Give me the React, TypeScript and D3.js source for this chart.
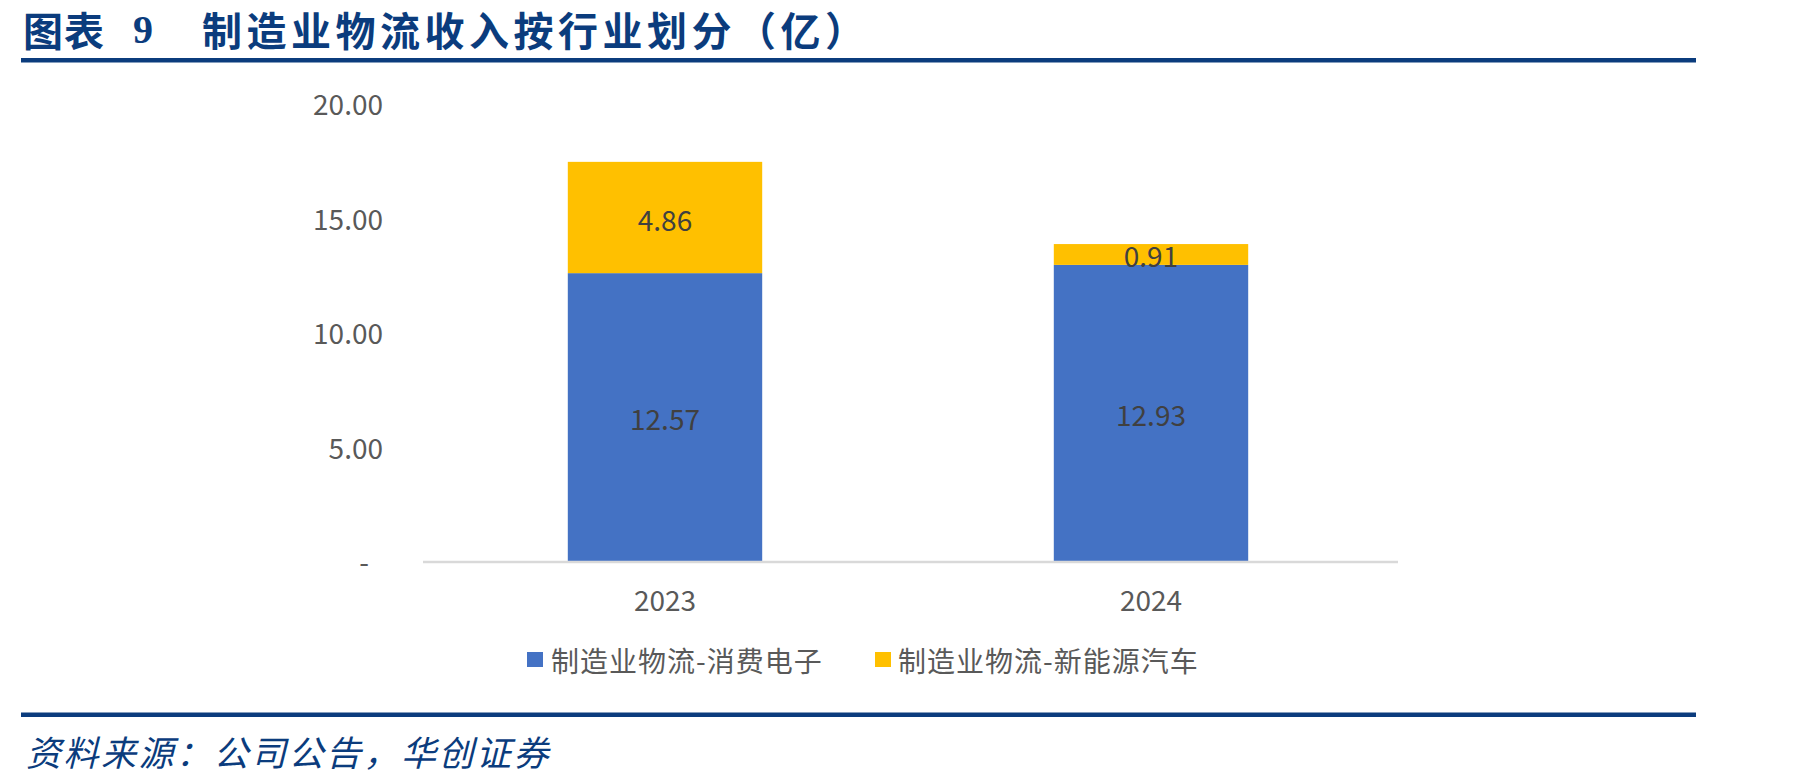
import React from "react";
import * as d3 from "d3";

const categories = ["2023", "2024"];
const seriesNames = ["制造业物流-消费电子", "制造业物流-新能源汽车"];
const consumerElectronics = [12.57, 12.93];
const newEnergyVehicles = [4.86, 0.91];
const yTicks = [0, 5, 10, 15, 20];
const titleLabel = "图表";
const titleNumber = "9";
const titleText = "制造业物流收入按行业划分（亿）";
const sourceText = "资料来源：公司公告，华创证券";

const colors = ["#4472C4", "#FFC000"];
const W = 1801;
const H = 783;
const navy = "#0B3C7D";
const grey = "#595959";
const cjk = "'Microsoft YaHei', 'Noto Sans CJK SC', 'Noto Sans', sans-serif";

export default function App() {
  const x = d3
    .scaleBand<string>()
    .domain(categories)
    .range([422, 1394])
    .paddingInner(0.6)
    .paddingOuter(0.3);
  const y = d3.scaleLinear().domain([0, 20]).range([561, 103]);

  const rows = categories.map((c, i) => ({
    cat: c,
    a: consumerElectronics[i],
    b: newEnergyVehicles[i],
  }));
  const stack = d3.stack<any>().keys(["a", "b"]);
  const layers = stack(rows);
  const fmt = d3.format(".2f");

  const legendItems = [
    { sq: 527, tx: 551 },
    { sq: 875, tx: 898 },
  ];

  return (
    <div style={{ position: "absolute", left: 0, top: 0 }}>
      <svg width={W} height={H} style={{ display: "block", background: "#fff" }}>
        {/* Title */}
        <text x={23} y={29} dominantBaseline="central" fontFamily={cjk} fontWeight={700} fontSize={40} fill={navy} letterSpacing={1}>
          {titleLabel}
        </text>
        <text x={133} y={29} dominantBaseline="central" fontFamily="'Liberation Serif', serif" fontWeight={700} fontSize={40} fill={navy}>
          {titleNumber}
        </text>
        <text x={202} y={29} dominantBaseline="central" fontFamily={cjk} fontWeight={700} fontSize={40} fill={navy} letterSpacing={4.5}>
          {titleText}
        </text>
        <rect x={21} y={58} width={1675} height={4.5} fill={navy} />

        {/* Y ticks */}
        {yTicks.map((t) => (
          <text
            key={t}
            x={t === 0 ? 369 : 383}
            y={y(t)}
            textAnchor="end"
            dominantBaseline="central"
            fontFamily={cjk}
            fontSize={28}
            fill={grey}
          >
            {t === 0 ? "-" : fmt(t)}
          </text>
        ))}

        {/* Bars */}
        {layers.map((layer, li) =>
          layer.map((d: any, i: number) => {
            const x0 = x(d.data.cat)!;
            const y0 = y(d[1]);
            const h = y(d[0]) - y(d[1]);
            return (
              <g key={`${li}-${i}`}>
                <rect x={x0} y={y0} width={x.bandwidth()} height={h} fill={colors[li]} />
                <text
                  x={x0 + x.bandwidth() / 2}
                  y={y0 + h / 2 + 1}
                  textAnchor="middle"
                  dominantBaseline="central"
                  fontFamily={cjk}
                  fontSize={28}
                  fill="#404040"
                >
                  {fmt(d[1] - d[0])}
                </text>
              </g>
            );
          })
        )}

        {/* X axis */}
        <line x1={423} x2={1398} y1={y(0) + 1} y2={y(0) + 1} stroke="#D9D9D9" strokeWidth={2.5} />
        {categories.map((c) => (
          <text
            key={c}
            x={x(c)! + x.bandwidth() / 2}
            y={599}
            textAnchor="middle"
            dominantBaseline="central"
            fontFamily={cjk}
            fontSize={28}
            fill={grey}
          >
            {c}
          </text>
        ))}

        {/* Legend */}
        {seriesNames.map((name, i) => (
          <g key={name}>
            <rect x={legendItems[i].sq} y={652} width={16} height={15} fill={colors[i]} />
            <text
              x={legendItems[i].tx}
              y={660}
              dominantBaseline="central"
              fontFamily={cjk}
              fontSize={28}
              fill={grey}
              letterSpacing={1}
            >
              {name}
            </text>
          </g>
        ))}

        {/* Source */}
        <rect x={21} y={712.5} width={1675} height={4.5} fill={navy} />
        <text
          x={26}
          y={750}
          dominantBaseline="central"
          fontFamily={cjk}
          fontStyle="italic"
          fontSize={35}
          fill={navy}
          letterSpacing={2.5}
        >
          {sourceText}
        </text>
      </svg>
    </div>
  );
}
